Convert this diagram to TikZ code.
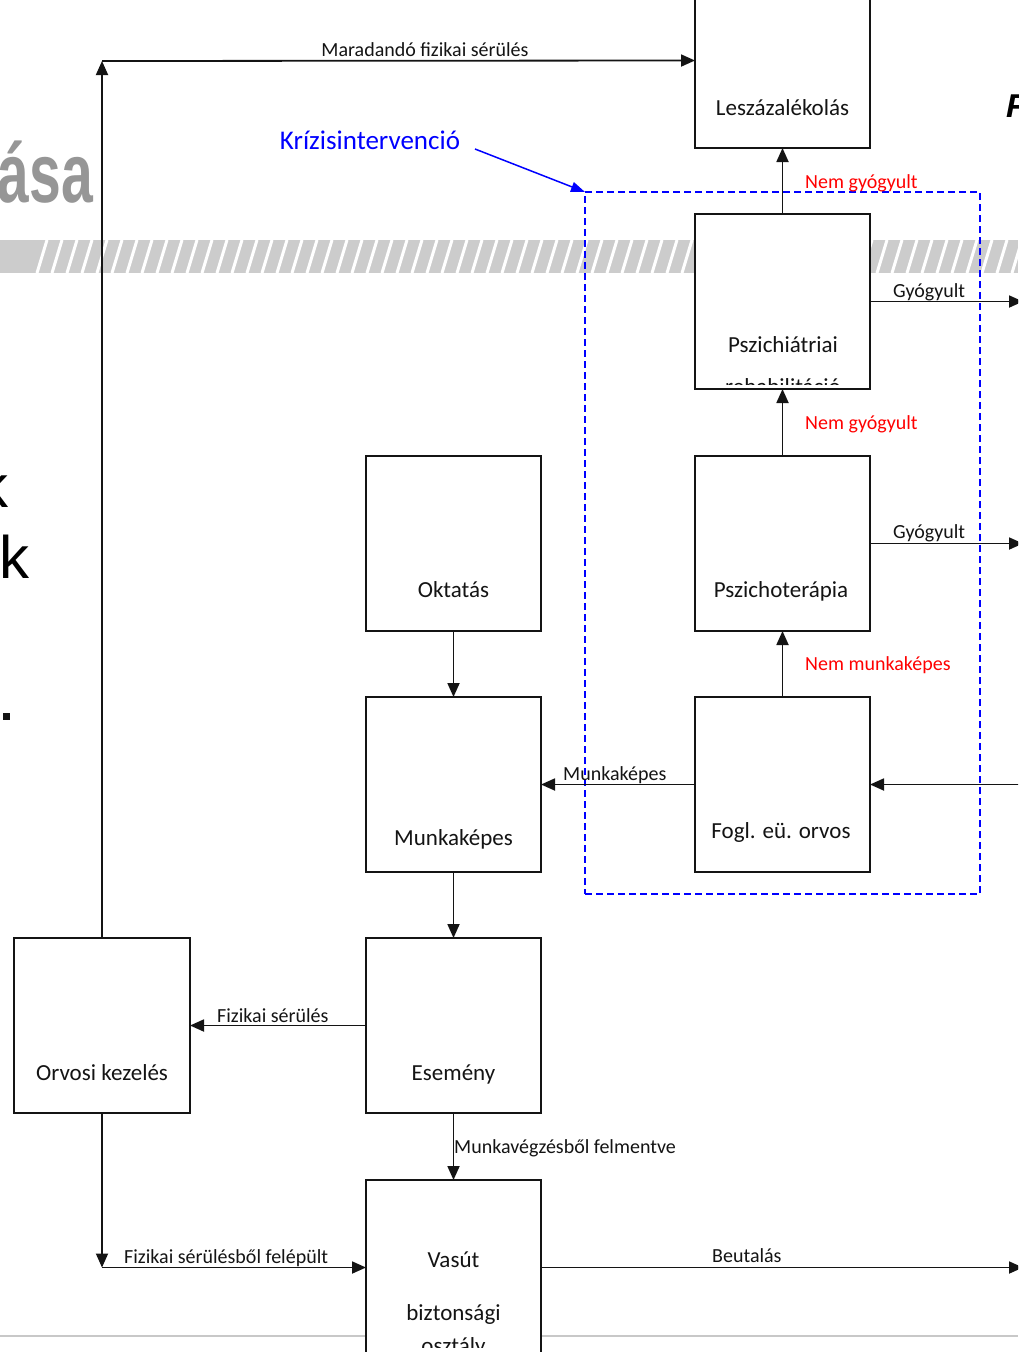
\documentclass[tikz,border=0pt]{standalone}
\usepackage{fontspec}
\setmainfont{Carlito}
\newfontfamily\bgfont{Liberation Sans}
\usetikzlibrary{arrows.meta}
\definecolor{bandgray}{RGB}{204,204,204}
\definecolor{titlegray}{RGB}{150,150,150}
\definecolor{linegray}{RGB}{200,200,200}
\definecolor{ink}{RGB}{20,20,20}
\definecolor{kblue}{RGB}{0,0,255}
\definecolor{kred}{RGB}{255,0,0}
\begin{document}
\begin{tikzpicture}[x=1pt,y=-1pt,
  box/.style={draw=ink, line width=1.8pt, fill=white, minimum width=175pt, minimum height=175pt, inner sep=0pt, outer sep=0pt},
  boxtext/.style={font=\fontsize{23}{27}\selectfont, anchor=base, inner sep=0pt, text=ink},
  lab/.style={font=\fontsize{20}{24}\selectfont, anchor=base west, inner sep=0pt, text=ink},
  redlab/.style={lab, text=kred},
  arr/.style={draw=ink, line width=1.8pt, -{Triangle[length=14pt,width=12pt]}},
  bgtext/.style={inner sep=0pt, anchor=base west}]
\useasboundingbox (0,0) rectangle (1018,1352);
\clip (0,0) rectangle (1018,1352);
\fill[white] (0,0) rectangle (1018,1352);
% slide background fragments
\node[bgtext, anchor=base east, font=\bgfont\bfseries\fontsize{84}{90}\selectfont, text=titlegray] (title) at (93,202) {\scalebox{0.68}[1]{ása}};
\fill[bandgray] (0,240) rectangle (1018,273);
\foreach \x in {37,52,...,1035} \draw[white, line width=3pt] (\x,273) -- ({\x+10},240);
\node[bgtext, font=\bgfont\fontsize{60}{60}\selectfont] (k1) at (-22,507) {k};
\node[bgtext, font=\bgfont\fontsize{60}{60}\selectfont] (k2) at (-1,578) {k};
\fill[ink] (3,713) rectangle (10,720);
\node[bgtext, font=\bgfont\bfseries\itshape\fontsize{33}{33}\selectfont, text=black] (ff) at (1006,117) {F};
\draw[linegray, line width=2.5pt] (0,1336) -- (1018,1336);

% boxes
\node[box] (lesz) at (782.5,60.5) {};
\node[box] (pszr) at (782.5,301.5) {};
\node[box] (pszt) at (782.5,543.5) {};
\node[box] (fogl) at (782.5,784.5) {};
\node[box] (okt) at (453.5,543.5) {};
\node[box] (munk) at (453.5,784.5) {};
\node[box] (esem) at (453.5,1025.5) {};
\node[box, minimum width=176pt] (orv) at (102,1025.5) {};
\node[box] (vasut) at (453.5,1267.5) {};

% crisis frame
\node[draw=kblue, line width=1.6pt, dash pattern=on 7pt off 4pt, minimum width=395pt, minimum height=702pt, inner sep=0pt, outer sep=0pt] (kriz) at (782.5,543) {};
\node[inner sep=0pt, anchor=base, font=\fontsize{27}{30}\selectfont, text=kblue] (lkriz) at (370,149) {Krízisintervenció};
\coordinate (ks) at (475,149);
\draw[kblue, line width=1.5pt, -{Triangle[length=14pt,width=10pt]}] (ks) -- (kriz.north west);

% connectors
\coordinate (c1) at (102,61);
\draw[arr] (orv.north) -- (c1);
\draw[arr] (c1) -- (lesz.west);
\draw[arr] (pszr.north) -- (lesz.south);
\coordinate (o1) at (1023,301.5);
\draw[arr] (pszr.east) -- (o1);
\draw[arr] (pszt.north) -- (pszr.south);
\coordinate (o2) at (1023,543.5);
\draw[arr] (pszt.east) -- (o2);
\draw[arr] (fogl.north) -- (pszt.south);
\coordinate (i1) at (1030,784.5);
\draw[arr] (i1) -- (fogl.east);
\draw[arr] (fogl.west) -- (munk.east);
\draw[arr] (okt.south) -- (munk.north);
\draw[arr] (munk.south) -- (esem.north);
\draw[arr] (esem.west) -- (orv.east);
\draw[arr] (esem.south) -- (vasut.north);
\coordinate (c2) at (102,1267.5);
\draw[arr] (orv.south) -- (c2);
\draw[arr] (c2) -- (vasut.west);
\coordinate (o3) at (1023,1267.5);
\draw[arr] (vasut.east) -- (o3);

% connector labels
\node[lab, anchor=base] (lmar) at (425,56) {Maradandó fizikai sérülés};
\node[redlab] (lng1) at (805,188) {Nem gyógyult};
\node[lab] (lgy1) at (893,297) {Gyógyult};
\node[redlab] (lng2) at (805,429) {Nem gyógyult};
\node[lab] (lgy2) at (893,538) {Gyógyult};
\node[redlab] (lnm) at (805,670) {Nem munkaképes};
\node[lab] (lmk) at (563,780) {Munkaképes};
\node[lab] (lfs) at (217,1022) {Fizikai sérülés};
\node[lab] (lmf) at (454,1153) {Munkavégzésből felmentve};
\node[lab] (lfel) at (124,1263) {Fizikai sérülésből felépült};
\node[lab] (lbe) at (712,1262) {Beutalás};

% box texts
\node[boxtext] (tlesz) at (782.5,115) {Leszázalékolás};
\node[boxtext] (tpszr) at (783,352) {Pszichiátriai};
\begin{scope}
\clip (690,214) rectangle (875,384);
\node[boxtext] (tpszr2) at (783,394) {rehabilitáció};
\end{scope}
\node[boxtext] (tpszt) at (781,597) {Pszichoterápia};
\node[boxtext] (tfogl) at (781,838) {Fogl. eü. orvos};
\node[boxtext] (tokt) at (453.5,597) {Oktatás};
\node[boxtext] (tmunk) at (453.5,845) {Munkaképes};
\node[boxtext] (tesem) at (453.5,1080) {Esemény};
\node[boxtext] (torv) at (102,1080) {Orvosi kezelés};
\node[boxtext] (tv1) at (453.5,1267) {Vasút};
\node[boxtext] (tv2) at (453.5,1320) {biztonsági};
\begin{scope}
\clip (370,1300) rectangle (540,1347);
\node[boxtext] (tv3) at (453.5,1353) {osztály};
\end{scope}
\end{tikzpicture}
\end{document}
